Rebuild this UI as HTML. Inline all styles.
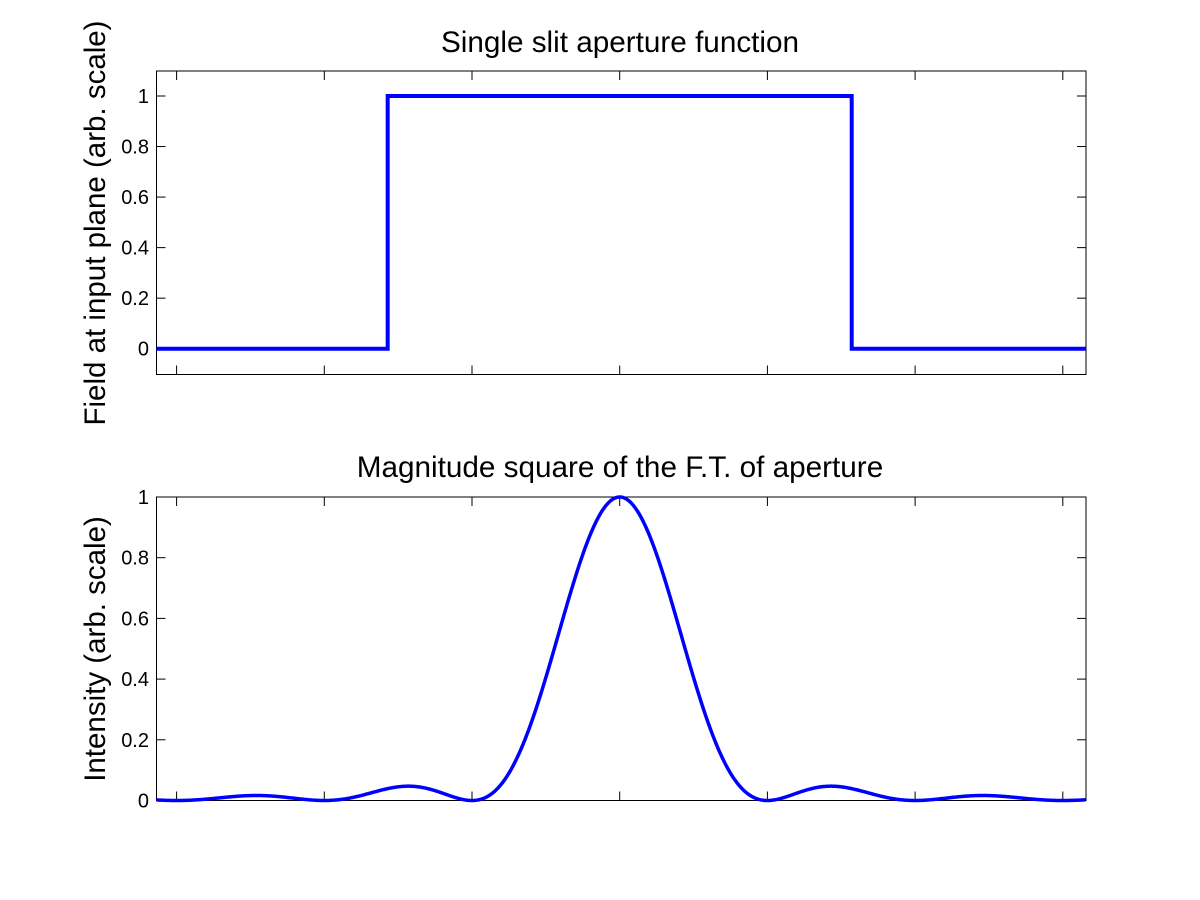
<!DOCTYPE html>
<html><head><style>html,body{margin:0;padding:0;background:#fff}svg{display:block}</style></head>
<body>
<svg id="s" width="1200" height="900" xmlns="http://www.w3.org/2000/svg" font-family="Liberation Sans, Arial, sans-serif">
<rect width="1200" height="900" fill="#fff"/>
<g id="top"></g>
<g id="bot"></g>
<text x="620" y="52" font-size="29.7" text-anchor="middle">Single slit aperture function</text>
<text x="620" y="477" font-size="29.7" text-anchor="middle">Magnitude square of the F.T. of aperture</text>
<text transform="translate(105,223) rotate(-90)" font-size="29.5" text-anchor="middle">Field at input plane (arb. scale)</text>
<text transform="translate(105,649) rotate(-90)" font-size="29.5" text-anchor="middle">Intensity (arb. scale)</text>
</svg>
<script>
var NS="http://www.w3.org/2000/svg";
function el(p,t,a,txt){var e=document.createElementNS(NS,t);for(var k in a)e.setAttribute(k,a[k]);if(txt!==undefined)e.textContent=txt;p.appendChild(e);return e;}
var L=156.5,R=1086,cx=619.7,u=147.7;
var xt=[-3,-2,-1,0,1,2,3].map(function(v){return cx+v*u;});
function axes(g,T,B,ymap,yt){
  el(g,"rect",{x:L,y:T,width:R-L,height:B-T,fill:"none",stroke:"#000","stroke-width":1});
  xt.forEach(function(x){el(g,"line",{x1:x,x2:x,y1:B,y2:B-9,stroke:"#000"});el(g,"line",{x1:x,x2:x,y1:T,y2:T+9,stroke:"#000"});});
  yt.forEach(function(v){var y=ymap(v);el(g,"line",{x1:L,x2:L+9,y1:y,y2:y,stroke:"#000"});el(g,"line",{x1:R,x2:R-9,y1:y,y2:y,stroke:"#000"});
    el(g,"text",{x:149,y:y+7,"font-size":20,"text-anchor":"end"},String(v));});
}
var tg=document.getElementById("top"),bg=document.getElementById("bot");
var ty=function(v){return 348.7-v*252.7;};
axes(tg,71,374.5,ty,[0,0.2,0.4,0.6,0.8,1]);
var x1=cx-1.5708*u,x2=cx+1.5708*u;
el(tg,"path",{d:"M"+L+","+ty(0)+" L"+x1+","+ty(0)+" L"+x1+","+ty(1)+" L"+x2+","+ty(1)+" L"+x2+","+ty(0)+" L"+R+","+ty(0),fill:"none",stroke:"#0000ff","stroke-width":4});
var by=function(v){return 800.5-v*303.5;};
axes(bg,497,800.5,by,[0,0.2,0.4,0.6,0.8,1]);
var d="";
for(var px=L;px<=R;px+=1){var x=(px-cx)/u;var s=Math.abs(x)<1e-9?1:Math.sin(Math.PI*x)/(Math.PI*x);d+=(d?"L":"M")+px.toFixed(1)+","+by(s*s).toFixed(2);}
el(bg,"path",{d:d,fill:"none",stroke:"#0000ff","stroke-width":3.5});
</script>
</body></html>
